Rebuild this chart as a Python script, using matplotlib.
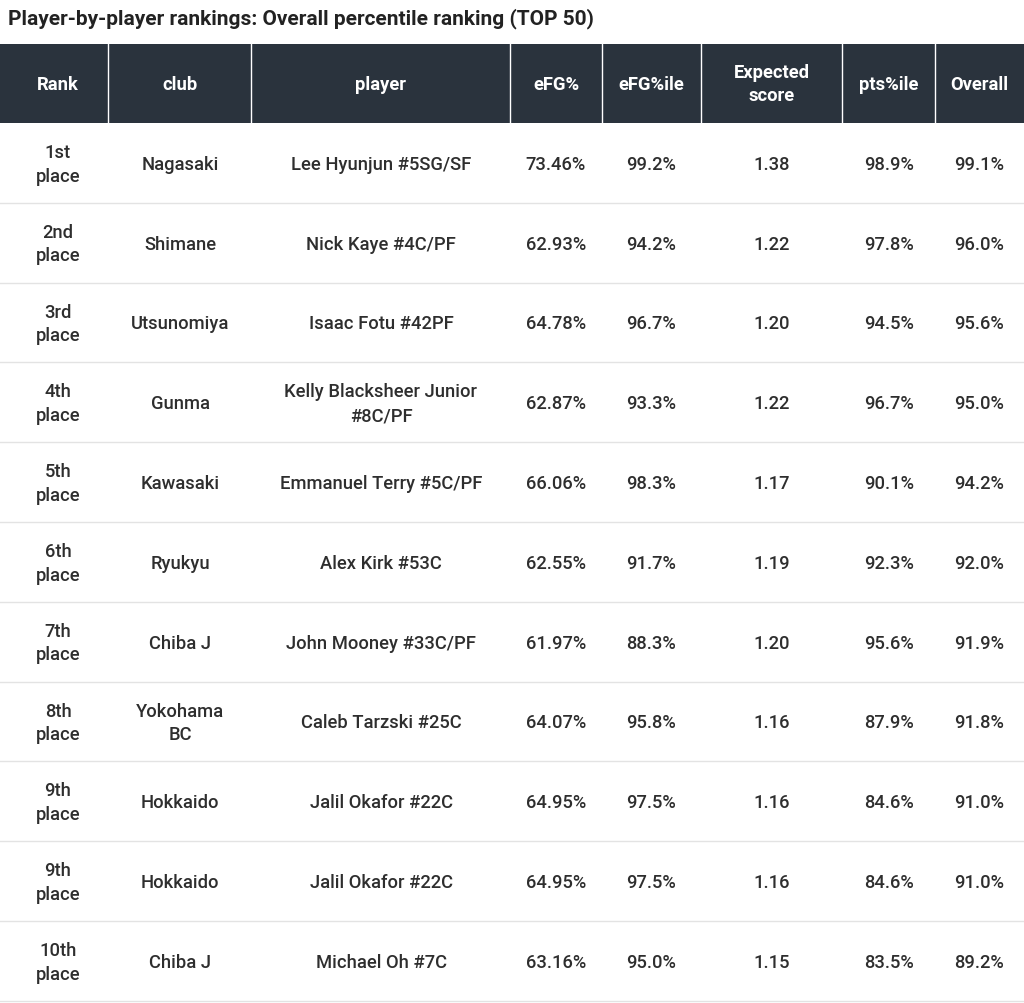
import matplotlib
matplotlib.use("Agg")
import matplotlib.pyplot as plt
from matplotlib.patches import Rectangle

plt.rcParams['font.family'] = ['Roboto', 'DejaVu Sans']

title = "Player-by-player rankings: Overall percentile ranking (TOP 50)"
headers = ["Rank", "club", "player", "eFG%", "eFG%ile", "Expected\nscore", "pts%ile", "Overall"]
ranks = ["1st\nplace", "2nd\nplace", "3rd\nplace", "4th\nplace", "5th\nplace", "6th\nplace",
         "7th\nplace", "8th\nplace", "9th\nplace", "9th\nplace", "10th\nplace"]
clubs = ["Nagasaki", "Shimane", "Utsunomiya", "Gunma", "Kawasaki", "Ryukyu", "Chiba J",
         "Yokohama\nBC", "Hokkaido", "Hokkaido", "Chiba J"]
players = ["Lee Hyunjun #5SG/SF", "Nick Kaye #4C/PF", "Isaac Fotu #42PF",
           "Kelly Blacksheer Junior\n#8C/PF", "Emmanuel Terry #5C/PF", "Alex Kirk #53C",
           "John Mooney #33C/PF", "Caleb Tarzski #25C", "Jalil Okafor #22C",
           "Jalil Okafor #22C", "Michael Oh #7C"]
efg = ["73.46%", "62.93%", "64.78%", "62.87%", "66.06%", "62.55%", "61.97%", "64.07%",
       "64.95%", "64.95%", "63.16%"]
efg_ile = ["99.2%", "94.2%", "96.7%", "93.3%", "98.3%", "91.7%", "88.3%", "95.8%",
           "97.5%", "97.5%", "95.0%"]
expected = ["1.38", "1.22", "1.20", "1.22", "1.17", "1.19", "1.20", "1.16", "1.16", "1.16", "1.15"]
pts_ile = ["98.9%", "97.8%", "94.5%", "96.7%", "90.1%", "92.3%", "95.6%", "87.9%",
           "84.6%", "84.6%", "83.5%"]
overall = ["99.1%", "96.0%", "95.6%", "95.0%", "94.2%", "92.0%", "91.9%", "91.8%",
           "91.0%", "91.0%", "89.2%"]

cols = [ranks, clubs, players, efg, efg_ile, expected, pts_ile, overall]
edges = [0, 108, 251, 510, 602, 701, 842, 935, 1024]
centers = [58, 180, 381, 556, 651, 772, 889, 979]

W, H = 1024, 1004
fig = plt.figure(figsize=(W/100, H/100), dpi=100)
ax = fig.add_axes([0, 0, 1, 1])
ax.set_xlim(0, W); ax.set_ylim(H, 0); ax.axis('off')

ax.text(8, 19, title, fontsize=15, fontweight='bold', color='#222222', va='center', ha='left')

hy0, hy1 = 45, 124
ax.add_patch(Rectangle((0, hy0), W, hy1-hy0, color='#2a333d', lw=0))
for x in edges[1:-1]:
    ax.plot([x, x], [hy0, hy1], color='white', lw=1)
for i, h in enumerate(headers):
    ax.text(centers[i], (hy0+hy1)/2, h, color='white', fontsize=13.2, fontweight='bold',
            ha='center', va='center', linespacing=1.4)

rh = 79.8
for r in range(len(ranks)):
    y0 = hy1 + r*rh
    cy = y0 + rh/2 + 1
    for i, col in enumerate(cols):
        ax.text(centers[i], cy, col[r], color='#2e2e2e', fontsize=13.2, fontweight='medium',
                ha='center', va='center', linespacing=1.4)
    ax.plot([0, W], [y0+rh, y0+rh], color='#e3e3e3', lw=1)

fig.savefig("out.png", dpi=100, facecolor='white')
